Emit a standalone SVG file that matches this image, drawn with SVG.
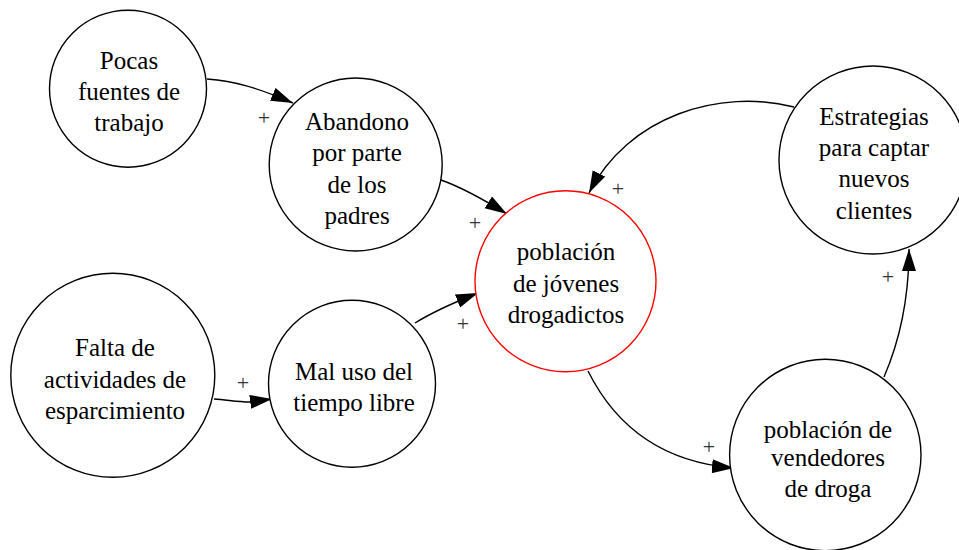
<svg xmlns="http://www.w3.org/2000/svg" width="959" height="550" viewBox="0 0 959 550">
<defs>
<marker id="arr" markerUnits="userSpaceOnUse" markerWidth="24" markerHeight="16" refX="22" refY="7" orient="auto">
<path d="M0,0 L22,7 L0,14 Z" fill="#000"/>
</marker>
<style>
.node circle{fill:#fff;stroke:#000;stroke-width:1.4}
.node text{font-family:"Liberation Serif","Times New Roman",serif;font-size:25px;fill:#000;text-anchor:middle}
#edges path{fill:none;stroke:#000;stroke-width:1.4;marker-end:url(#arr)}
#edges text{font-family:"Liberation Serif","Times New Roman",serif;font-size:22px;fill:#333;text-anchor:middle}
</style>
</defs>
<rect width="959" height="550" fill="#fff"/>
<g id="edges">
<path d="M207,79 C235,81 258,88 293,103"/>
<path d="M441,180 C458,186 478,196 507,214"/>
<path d="M794,107 C720,88 628,116 589,193"/>
<path d="M415,323 C428,315 445,306 478,293"/>
<path d="M214,399 C228,400 238,402 249,402 L272,399"/>
<path d="M588,371 C615,425 660,462 734,468"/>
<path d="M884,377 C900,340 909,300 909,249"/>
<text x="264" y="125">+</text>
<text x="475" y="230">+</text>
<text x="618" y="196">+</text>
<text x="463" y="331">+</text>
<text x="243" y="390">+</text>
<text x="709" y="454">+</text>
<text x="888" y="284">+</text>
</g>
<g id="pocas" class="node">
<circle cx="128" cy="88.7" r="78.5"/>
<text x="129" y="68.5">Pocas</text>
<text x="129" y="99.5">fuentes de</text>
<text x="129" y="130.5">trabajo</text>
</g>
<g id="abandono" class="node">
<circle cx="355.7" cy="164.5" r="86.5"/>
<text x="357" y="129.5">Abandono</text>
<text x="357" y="161">por parte</text>
<text x="357" y="192.5">de los</text>
<text x="357" y="224">padres</text>
</g>
<g id="jovenes" class="node">
<circle cx="565.5" cy="281.3" r="90.5" style="stroke:#ff0000"/>
<text x="566" y="260">población</text>
<text x="566" y="291.5">de jóvenes</text>
<text x="566" y="323">drogadictos</text>
</g>
<g id="estrategias" class="node">
<circle cx="873" cy="160" r="94"/>
<text x="874" y="124.5">Estrategias</text>
<text x="874" y="156">para captar</text>
<text x="874" y="187">nuevos</text>
<text x="874" y="218.5">clientes</text>
</g>
<g id="falta" class="node">
<circle cx="112.8" cy="375.3" r="102"/>
<text x="115" y="356">Falta de</text>
<text x="115" y="387.5">actividades de</text>
<text x="115" y="419">esparcimiento</text>
</g>
<g id="maluso" class="node">
<circle cx="352" cy="383.8" r="83.5"/>
<text x="354" y="379.5">Mal uso del</text>
<text x="354" y="411">tiempo libre</text>
</g>
<g id="vendedores" class="node">
<circle cx="825.3" cy="455" r="95.7"/>
<text x="828" y="437.5">población de</text>
<text x="828" y="466">vendedores</text>
<text x="828" y="497">de droga</text>
</g>
</svg>
